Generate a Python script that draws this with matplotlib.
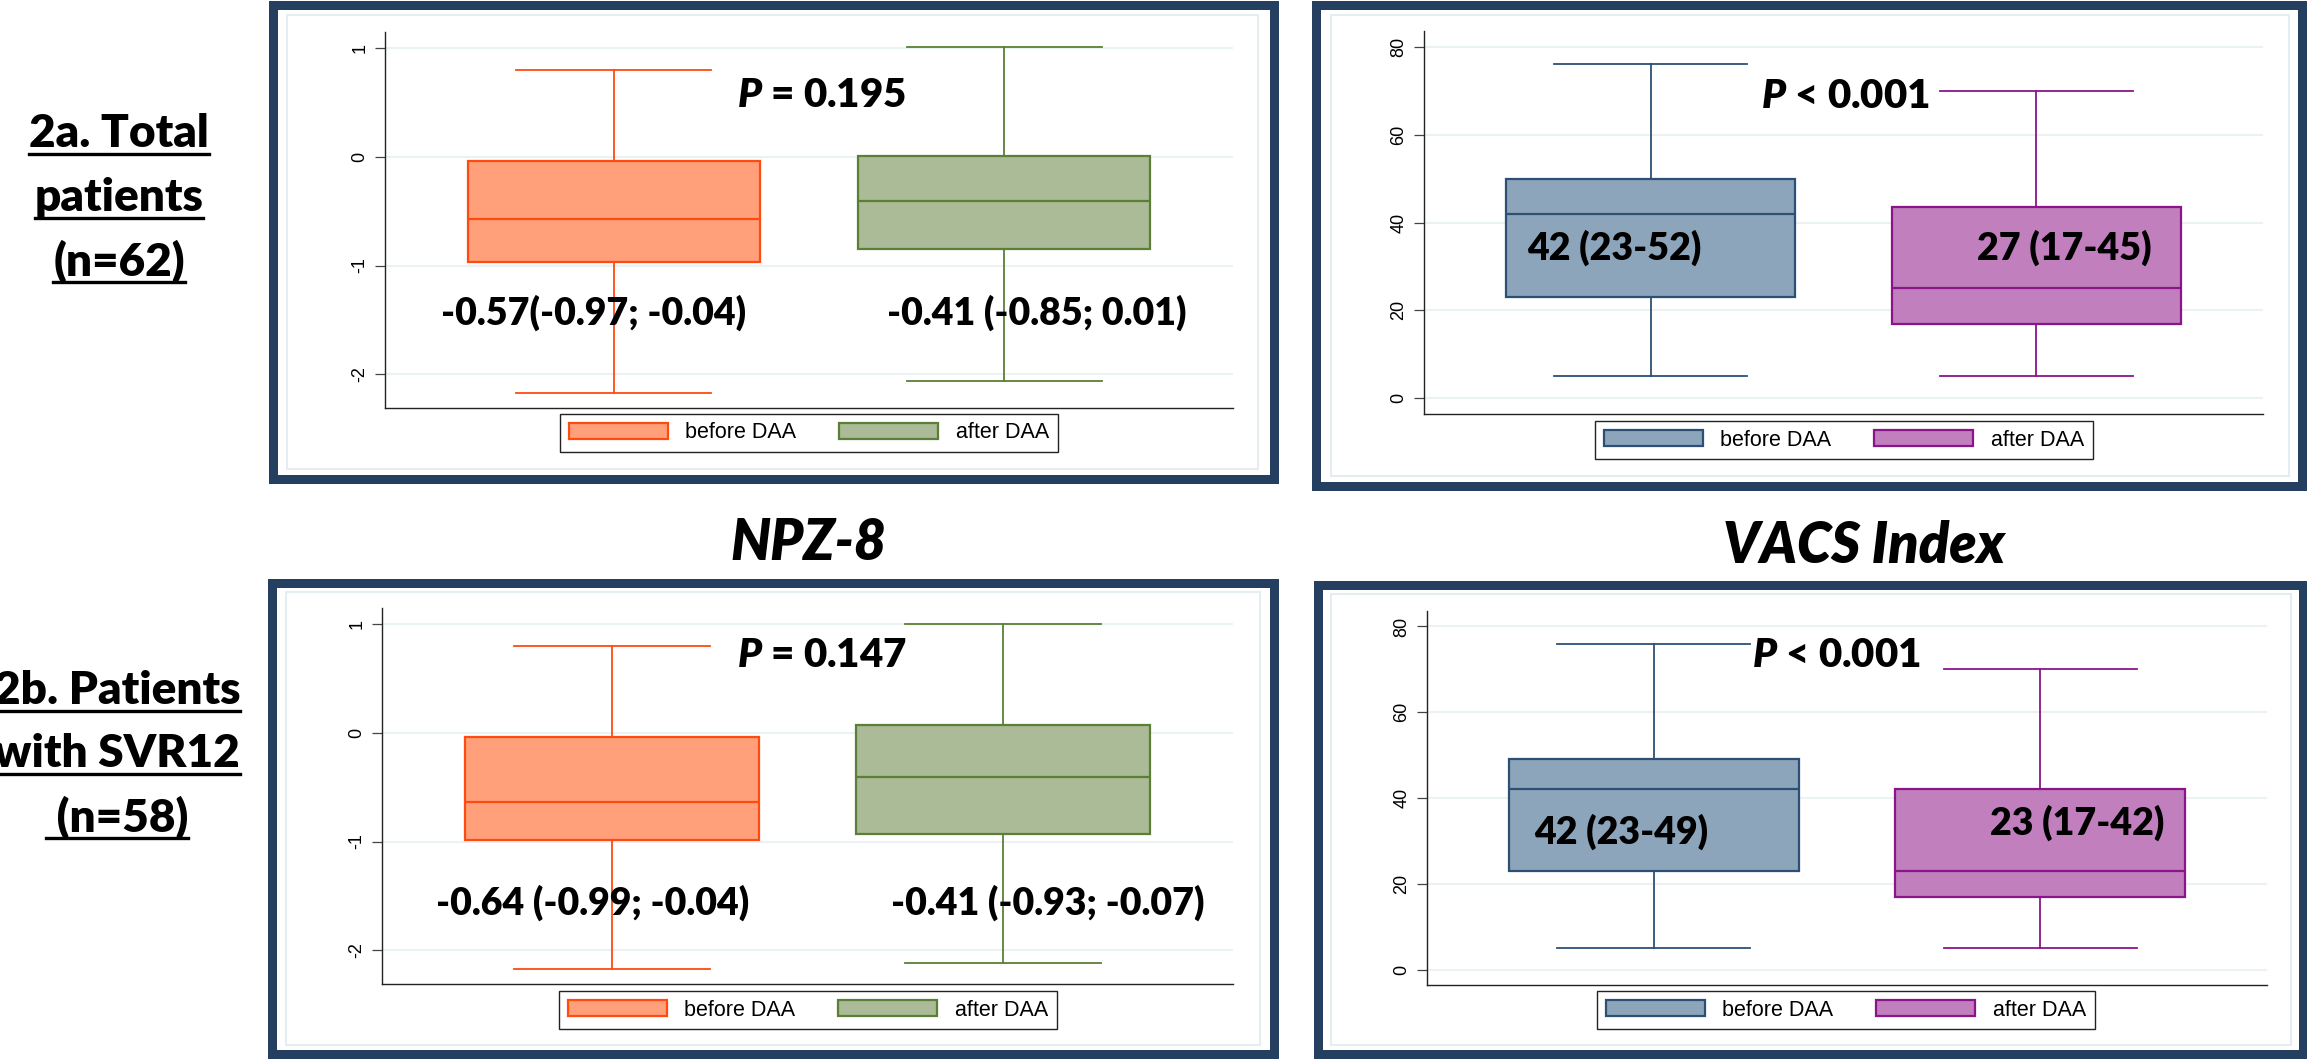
import matplotlib
matplotlib.use('Agg')
import matplotlib.pyplot as plt
from matplotlib.patches import Rectangle, Patch
from matplotlib.lines import Line2D

plt.rcParams['axes.unicode_minus'] = False
plt.rcParams['mathtext.fontset'] = 'custom'
plt.rcParams['mathtext.it'] = 'Lato:italic:heavy'
plt.rcParams['mathtext.rm'] = 'Lato:heavy'

# ---- data ----
groups = ['before DAA', 'after DAA']

# NPZ-8, total patients (n=62)
npz_tot_lo = [-2.17, -2.06]
npz_tot_q1 = [-0.97, -0.85]
npz_tot_med = [-0.57, -0.41]
npz_tot_q3 = [-0.04, 0.01]
npz_tot_hi = [0.80, 1.01]
npz_tot_labels = ['-0.57(-0.97; -0.04)', '-0.41 (-0.85; 0.01)']
npz_tot_p = '$P$ = 0.195'

# VACS index, total patients (n=62)
vacs_tot_lo = [5, 5]
vacs_tot_q1 = [23, 17]
vacs_tot_med = [42, 25]
vacs_tot_q3 = [50, 43.5]
vacs_tot_hi = [76, 70]
vacs_tot_labels = ['42 (23-52)', '27 (17-45)']
vacs_tot_p = '$P$ < 0.001'

# NPZ-8, patients with SVR12 (n=58)
npz_svr_lo = [-2.17, -2.12]
npz_svr_q1 = [-0.99, -0.93]
npz_svr_med = [-0.64, -0.41]
npz_svr_q3 = [-0.04, 0.07]
npz_svr_hi = [0.80, 1.00]
npz_svr_labels = ['-0.64 (-0.99; -0.04)', '-0.41 (-0.93; -0.07)']
npz_svr_p = '$P$ = 0.147'

# VACS index, patients with SVR12 (n=58)
vacs_svr_lo = [5, 5]
vacs_svr_q1 = [23, 17]
vacs_svr_med = [42, 23]
vacs_svr_q3 = [49, 42]
vacs_svr_hi = [76, 70]
vacs_svr_labels = ['42 (23-49)', '23 (17-42)']
vacs_svr_p = '$P$ < 0.001'

npz_ticks = [-2, -1, 0, 1]
vacs_ticks = [0, 20, 40, 60, 80]

npz_fill = ['#FFA07A', '#ABBA97']
npz_edge = ['#FF4A12', '#5B7F36']
vacs_fill = ['#8DA5BA', '#C17FBE']
vacs_edge = ['#2C5075', '#8B148B']

navy = '#243F60'
W, H = 2307, 1060
fig = plt.figure(figsize=(W / 100, H / 100), dpi=100)
BOLD = 'Lato'
WT = 'heavy'


def rect(x0, y0, x1, y1):
    return [x0 / W, 1 - y1 / H, (x1 - x0) / W, (y1 - y0) / H]


def frame(x0, y0, x1, y1, inner):
    t = 9
    fig.patches.append(Rectangle(((x0 + t / 2) / W, 1 - (y1 - t / 2) / H),
                                 (x1 - x0 - t) / W, (y1 - y0 - t) / H,
                                 transform=fig.transFigure, fill=False,
                                 edgecolor=navy, linewidth=t * 0.72))
    ix0, iy0, ix1, iy1 = inner
    fig.patches.append(Rectangle((ix0 / W, 1 - iy1 / H), (ix1 - ix0) / W,
                                 (iy1 - iy0) / H, transform=fig.transFigure,
                                 fill=False, edgecolor='#E6EDF0', linewidth=1.5))


def panel(ax_px, leg_c, lo, q1, med, q3, hi, fills, edges, ylim, ticks,
          labels, label_pos, ptxt, p_pos):
    ax = fig.add_axes(rect(*ax_px))
    stats = [dict(whislo=lo[i], q1=q1[i], med=med[i], q3=q3[i], whishi=hi[i],
                  fliers=[], label=groups[i]) for i in range(2)]
    bp = ax.bxp(stats, positions=[1, 2], widths=0.75, capwidths=0.5,
                patch_artist=True, showfliers=False, manage_ticks=False)
    for i in range(2):
        bp['boxes'][i].set(facecolor=fills[i], edgecolor=edges[i], linewidth=1.6)
        bp['medians'][i].set(color=edges[i], linewidth=1.6)
        for ln in bp['whiskers'][2 * i:2 * i + 2] + bp['caps'][2 * i:2 * i + 2]:
            ln.set(color=edges[i], linewidth=1.3)
    ax.set_xlim(0.413, 2.587)
    ax.set_ylim(*ylim)
    ax.set_xticks([])
    ax.set_yticks(ticks)
    ax.yaxis.grid(True, color='#EAF2F3', linewidth=1.5)
    ax.set_axisbelow(True)
    for s in ['top', 'right']:
        ax.spines[s].set_visible(False)
    for s in ['left', 'bottom']:
        ax.spines[s].set_color('#222222')
        ax.spines[s].set_linewidth(1.0)
    ax.tick_params(axis='y', direction='out', length=7, width=0.9,
                   color='#444444', pad=5, labelsize=13)
    for t in ax.get_yticklabels():
        t.set_rotation(90)
        t.set_va('center')
        t.set_family('Liberation Sans')
    for txt, (x, y) in zip(labels, label_pos):
        ax.text(x, y, txt, transform=ax.transAxes, ha='center', va='center',
                family=BOLD, weight=WT, fontsize=27, zorder=5)
    ax.text(p_pos[0], p_pos[1], ptxt, transform=ax.transAxes, ha='center',
            va='center', family=BOLD, weight=WT, fontsize=29, zorder=5)
    handles = [Patch(facecolor=fills[i], edgecolor=edges[i], linewidth=1.6,
                     label=groups[i]) for i in range(2)]
    leg = ax.legend(handles=handles, loc='center', ncol=2,
                    bbox_to_anchor=(leg_c[0] / W, 1 - leg_c[1] / H),
                    bbox_transform=fig.transFigure, fancybox=False,
                    edgecolor='#222222', framealpha=1, handlelength=4.6,
                    handleheight=0.8, handletextpad=0.8, columnspacing=2.0,
                    borderpad=0.4, prop={'family': 'Liberation Sans', 'size': 15.5})
    leg.get_frame().set_linewidth(1.0)
    return ax


# frames
frame(268, 0, 1278, 483, (287, 15, 1258, 469))
frame(1312, 0, 2307, 490, (1331, 15, 2289, 476))
frame(267, 578, 1278, 1058, (286, 592, 1260, 1045))
frame(1313, 580, 2307, 1058, (1331, 594, 2291, 1045))

npz_lim = (-2.31, 1.148)
vacs_lim = (-3.6, 83.6)

panel((385, 32, 1233, 408), (809, 433), npz_tot_lo, npz_tot_q1, npz_tot_med,
      npz_tot_q3, npz_tot_hi, npz_fill, npz_edge, npz_lim, npz_ticks,
      npz_tot_labels, [(0.246, 0.253), (0.768, 0.253)], npz_tot_p, (0.515, 0.832))
panel((1424, 31, 2263, 414), (1844, 440), vacs_tot_lo, vacs_tot_q1, vacs_tot_med,
      vacs_tot_q3, vacs_tot_hi, vacs_fill, vacs_edge, vacs_lim, vacs_ticks,
      vacs_tot_labels, [(0.227, 0.433), (0.763, 0.433)], vacs_tot_p, (0.502, 0.828))
panel((382, 608, 1233, 984), (808, 1010), npz_svr_lo, npz_svr_q1, npz_svr_med,
      npz_svr_q3, npz_svr_hi, npz_fill, npz_edge, npz_lim, npz_ticks,
      npz_svr_labels, [(0.247, 0.217), (0.782, 0.217)], npz_svr_p, (0.517, 0.874))
panel((1427, 611, 2267, 985), (1846, 1010), vacs_svr_lo, vacs_svr_q1, vacs_svr_med,
      vacs_svr_q3, vacs_svr_hi, vacs_fill, vacs_edge, vacs_lim, vacs_ticks,
      vacs_svr_labels, [(0.231, 0.409), (0.774, 0.433)], vacs_svr_p, (0.487, 0.880))

# titles between rows
fig.text(808 / W, 1 - 560 / H, 'NPZ-8', ha='center', va='baseline', family=BOLD,
         weight=WT, style='italic', fontsize=40)
fig.text(1864 / W, 1 - 563 / H, 'VACS Index', ha='center', va='baseline',
         family=BOLD, weight=WT, style='italic', fontsize=40)

# row labels, underlined
row_texts = []
for s, yb in zip(['2a. Total', 'patients', '(n=62)'], [147, 211, 275]):
    row_texts.append(fig.text(119 / W, 1 - yb / H, s, ha='center', va='baseline',
                              family=BOLD, weight=WT, fontsize=33))
for s, yb in zip(['2b. Patients', 'with SVR12', ' (n=58)'], [704, 767, 831]):
    row_texts.append(fig.text(117 / W, 1 - yb / H, s, ha='center', va='baseline',
                              family=BOLD, weight=WT, fontsize=33))

fig.canvas.draw()
r = fig.canvas.get_renderer()
for t in row_texts:
    bb = t.get_window_extent(r)
    yb = t.get_position()[1] - 7 / H
    fig.add_artist(Line2D([bb.x0 / W, bb.x1 / W], [yb, yb], color='black',
                          linewidth=2.4, transform=fig.transFigure))

fig.savefig('out.png', dpi=100)
